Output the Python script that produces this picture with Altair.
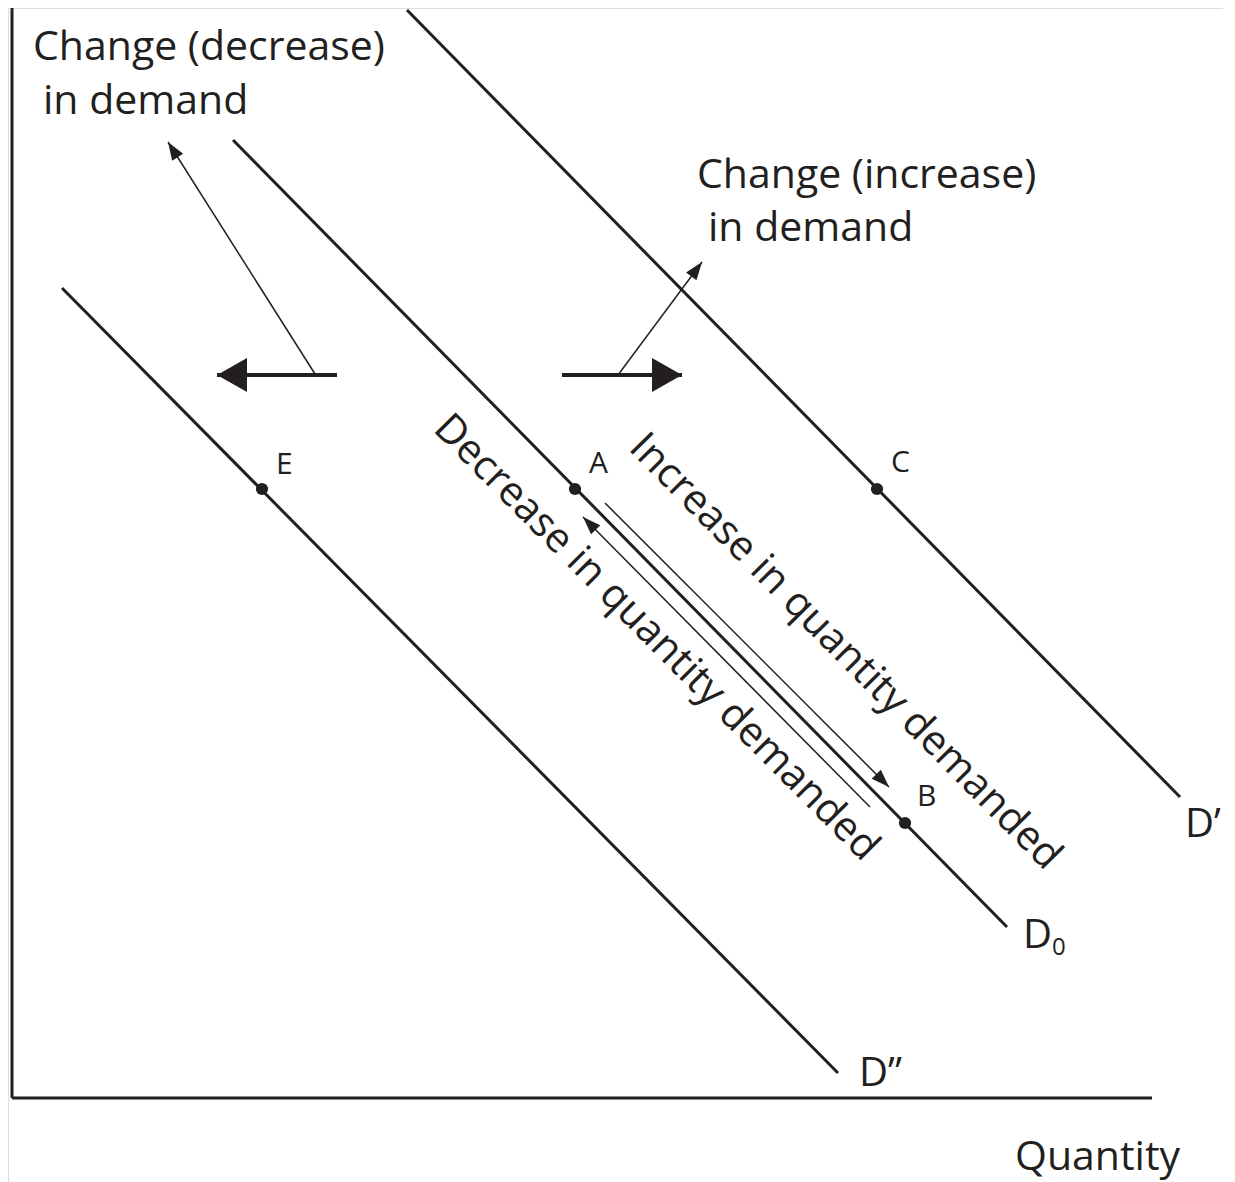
import altair as alt
import pandas as pd
import numpy as np

# ---- data (image-pixel coordinates, y grows downward) ----
curve_names = ["D’", "D0", "D”"]
curve_x1 = [407, 233, 62]
curve_y1 = [10, 140, 288]
curve_x2 = [1180, 1007, 838]
curve_y2 = [797, 927, 1073]

axis_x1 = [12, 12]
axis_y1 = [8, 1098]
axis_x2 = [12, 1152]
axis_y2 = [1098, 1098]

point_labels = ["E", "A", "C", "B"]
point_x = [262, 575, 877, 905]
point_y = [489, 489, 489, 823]
plabel_x = [276, 589, 891, 917]
plabel_y = [474, 473, 472, 806]

thin_x1 = [605, 870, 315, 618]
thin_y1 = [503, 807, 374, 375]
thin_x2 = [889, 583, 168, 702]
thin_y2 = [787, 517, 142, 262]

thick_x1 = [337, 562]
thick_y1 = [375, 375]
thick_x2 = [217, 682]
thick_y2 = [375, 375]

note_text = ["Change (decrease)", "in demand", "Change (increase)", "in demand"]
note_x = [33, 43, 697, 708]
note_y = [60, 114, 188, 241]

rot_text = ["Increase in quantity demanded", "Decrease in quantity demanded"]
rot_x = [845, 656]
rot_y = [652, 638]
rot_angle = [45.3, 45.1]

dlabel_text = ["D’", "D", "D”"]
dlabel_x = [1185, 1023, 859]
dlabel_y = [837, 948, 1086]
sub_text = ["0"]
sub_x = [1052]
sub_y = [955]

xlabel_text = ["Quantity"]
xlabel_x = [1015]
xlabel_y = [1170]

INK = "#231f20"
FONT = "Open Sans"
W, H = 1215, 1174
xs = alt.Scale(domain=[8, 8 + W], nice=False, zero=False)
ys = alt.Scale(domain=[8, 8 + H], nice=False, zero=False, reverse=True)


def seg_df(x1, y1, x2, y2):
    return pd.DataFrame({"x": x1, "y": y1, "x2": x2, "y2": y2})


def rules(df, width):
    return alt.Chart(df).mark_rule(color=INK, strokeWidth=width).encode(
        x=alt.X("x:Q", scale=xs, axis=None),
        y=alt.Y("y:Q", scale=ys, axis=None),
        x2="x2:Q",
        y2="y2:Q",
    )


def heads(df, path, size):
    d = df.copy()
    d["ang"] = np.mod(np.degrees(np.arctan2(d["x2"] - d["x"], -(d["y2"] - d["y"]))), 360)
    return alt.Chart(d).mark_point(
        shape=path, filled=True, size=size, color=INK, opacity=1, strokeWidth=0
    ).encode(
        x=alt.X("x2:Q", scale=xs, axis=None),
        y=alt.Y("y2:Q", scale=ys, axis=None),
        angle=alt.Angle("ang:Q", scale=None),
    )


def texts(labels, x, y, size, align="left", baseline="alphabetic"):
    df = pd.DataFrame({"t": labels, "x": x, "y": y})
    return alt.Chart(df).mark_text(
        font=FONT, fontSize=size, color=INK, align=align, baseline=baseline
    ).encode(
        x=alt.X("x:Q", scale=xs, axis=None),
        y=alt.Y("y:Q", scale=ys, axis=None),
        text="t:N",
    )


axes_layer = rules(seg_df(axis_x1, axis_y1, axis_x2, axis_y2), 3)
curves_layer = rules(seg_df(curve_x1, curve_y1, curve_x2, curve_y2), 3)
thin_df = seg_df(thin_x1, thin_y1, thin_x2, thin_y2)
thin_layer = rules(thin_df, 1.5)
thin_heads = heads(thin_df, "M0,0L0.36,1L-0.36,1Z", 1296)
thick_df = seg_df(thick_x1, thick_y1, thick_x2, thick_y2)
thick_layer = rules(thick_df, 4)
thick_heads = heads(thick_df, "M0,0L0.57,1L-0.57,1Z", 3600)

pts = alt.Chart(pd.DataFrame({"x": point_x, "y": point_y})).mark_circle(
    size=150, color=INK, opacity=1
).encode(
    x=alt.X("x:Q", scale=xs, axis=None),
    y=alt.Y("y:Q", scale=ys, axis=None),
)

rot_df = pd.DataFrame({"t": rot_text, "x": rot_x, "y": rot_y, "a": rot_angle})
rot_layer = alt.Chart(rot_df).mark_text(
    font=FONT, fontSize=41, color=INK, align="center", baseline="middle"
).encode(
    x=alt.X("x:Q", scale=xs, axis=None),
    y=alt.Y("y:Q", scale=ys, axis=None),
    text="t:N",
    angle=alt.Angle("a:Q", scale=None),
)

chart = alt.layer(
    axes_layer,
    curves_layer,
    thin_layer,
    thin_heads,
    thick_layer,
    thick_heads,
    pts,
    texts(point_labels, plabel_x, plabel_y, 30),
    texts(note_text, note_x, note_y, 41),
    rot_layer,
    texts(dlabel_text, dlabel_x, dlabel_y, 40),
    texts(sub_text, sub_x, sub_y, 24),
    texts(xlabel_text, xlabel_x, xlabel_y, 41),
).properties(
    width=W, height=H, autosize=alt.AutoSizeParams(type="none"), padding=0
).configure_view(stroke=None).configure(background="white")

chart.save("out.html", embed_options={"renderer": "svg", "actions": False})
